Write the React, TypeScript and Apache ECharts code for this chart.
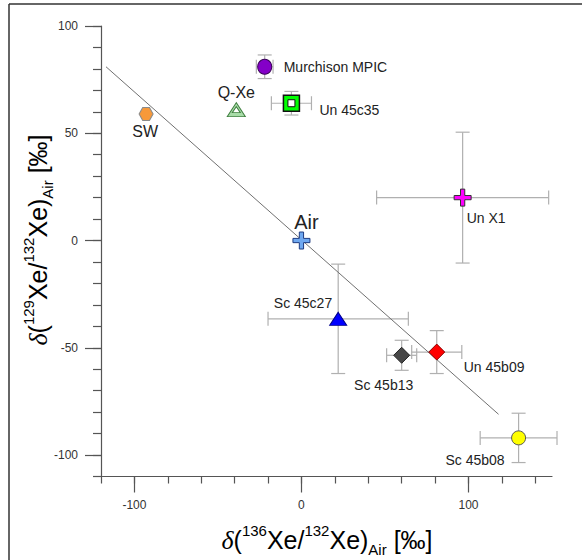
import React, { useEffect, useRef } from "react";
import * as echarts from "echarts";

// ---- data ----
const sampleNames = ["Murchison MPIC", "Un 45c35", "Q-Xe", "SW", "Air", "Un X1", "Sc 45c27", "Sc 45b13", "Un 45b09", "Sc 45b08"];
const delta136 = [-22, -6, -39, -93, 0, 96.5, 22, 60, 81, 130];
const delta129 = [81, 64, 61, 59, 0, 20, -36.5, -53.5, -52, -92];
const err136 = [5, 12, 0, 0, 0, 51.5, 42, 9, 15, 23];
const err129 = [5.5, 5.5, 0, 0, 0, 30.5, 25.5, 7, 10, 11.5];
const trendX = [-117, 118];
const trendY = [81, -81];
const xMajorTicks = [-100, 0, 100];
const xMinorTicks = [-120, -100, -80, -60, -40, -20, 0, 20, 40, 60, 80, 100, 120, 140];
const yMajorTicks = [-100, -50, 0, 50, 100];
const yMinorTicks = [-110, -100, -90, -80, -70, -60, -50, -40, -30, -20, -10, 0, 10, 20, 30, 40, 50, 60, 70, 80, 90, 100];

// ---- styles ----
const CROSS = "path://M3,0H5V3H8V5H5V8H3V5H0V3H3Z";
const HEX = "path://M2.6,0.5L7.4,0.5L10,5L7.4,9.5L2.6,9.5L0,5Z";

type Inner = { symbol: string; size: number | number[]; color: string; border: string };
type MStyle = {
  symbol: string;
  size: number | number[];
  color: string;
  border: string;
  bw: number;
  inner?: Inner;
  align: string;
  offset: number[];
  fontSize: number;
};

const markerStyles: MStyle[] = [
  { symbol: "circle", size: [14, 15], color: "#8400c8", border: "#3a0058", bw: 1, align: "left", offset: [19, 0], fontSize: 14 },
  { symbol: "rect", size: 16, color: "#00ff00", border: "#111111", bw: 1.5, inner: { symbol: "rect", size: 7, color: "#ffffff", border: "#111111" }, align: "left", offset: [28, 7], fontSize: 14 },
  { symbol: "triangle", size: [18, 14], color: "#a8dca8", border: "#3f7f3f", bw: 1, inner: { symbol: "triangle", size: [8, 6], color: "#ffffff", border: "#3f7f3f" }, align: "center", offset: [0, -17], fontSize: 16 },
  { symbol: HEX, size: [14, 13], color: "#f7993a", border: "#8a8a8a", bw: 1, align: "center", offset: [-1, 18], fontSize: 16 },
  { symbol: CROSS, size: 17, color: "#6fa8f0", border: "#1e3c82", bw: 1, align: "center", offset: [5, -19], fontSize: 20 },
  { symbol: CROSS, size: 17, color: "#ff00ff", border: "#333333", bw: 1, align: "left", offset: [4, 20], fontSize: 14 },
  { symbol: "triangle", size: [17, 13], color: "#0000ff", border: "#00008b", bw: 1, align: "right", offset: [-6, -16], fontSize: 14 },
  { symbol: "diamond", size: 16, color: "#474747", border: "#222222", bw: 1, align: "center", offset: [-18, 30], fontSize: 14 },
  { symbol: "diamond", size: 16, color: "#ff0000", border: "#8b0000", bw: 1, align: "left", offset: [27, 15], fontSize: 14 },
  { symbol: "circle", size: 14, color: "#ffff00", border: "#555555", bw: 1, align: "right", offset: [-14, 22], fontSize: 14 },
];

const AXIS_COLOR = "#555555";
const FONT = "Liberation Sans, Arial, sans-serif";

function buildOption() {
  const errData: number[][] = [];
  sampleNames.forEach((_, i) => {
    if (err136[i] > 0 || err129[i] > 0) errData.push([delta136[i], delta129[i], err136[i], err129[i]]);
  });

  const errorSeries = {
    type: "custom",
    name: "errors",
    clip: false,
    z: 1,
    silent: true,
    data: errData,
    encode: { x: 0, y: 1 },
    renderItem: (params: any, api: any) => {
      const x = api.value(0);
      const y = api.value(1);
      const ex = api.value(2);
      const ey = api.value(3);
      const l = api.coord([x - ex, y]);
      const r = api.coord([x + ex, y]);
      const t = api.coord([x, y + ey]);
      const b = api.coord([x, y - ey]);
      const cap = 7;
      const st = { stroke: "#b0b0b0", lineWidth: 1.2, fill: null };
      const mk = (x1: number, y1: number, x2: number, y2: number) => ({
        type: "line",
        shape: { x1, y1, x2, y2 },
        style: st,
      });
      return {
        type: "group",
        children: [
          mk(l[0], l[1], r[0], r[1]),
          mk(l[0], l[1] - cap, l[0], l[1] + cap),
          mk(r[0], r[1] - cap, r[0], r[1] + cap),
          mk(t[0], t[1], b[0], b[1]),
          mk(t[0] - cap, t[1], t[0] + cap, t[1]),
          mk(b[0] - cap, b[1], b[0] + cap, b[1]),
        ],
      };
    },
  };

  const trendSeries = {
    type: "line",
    name: "trend",
    z: 2,
    silent: true,
    symbol: "none",
    data: trendX.map((x, i) => [x, trendY[i]]),
    lineStyle: { color: "#707070", width: 1 },
  };

  const markerSeries: any[] = [];
  sampleNames.forEach((name, i) => {
    const s = markerStyles[i];
    markerSeries.push({
      type: "scatter",
      name,
      z: 3,
      silent: true,
      symbol: s.symbol,
      symbolSize: s.size,
      data: [[delta136[i], delta129[i]]],
      itemStyle: { color: s.color, borderColor: s.border, borderWidth: s.bw, opacity: 1 },
      label: {
        show: true,
        formatter: name,
        position: "inside",
        align: s.align,
        verticalAlign: "middle",
        offset: s.offset,
        fontSize: s.fontSize,
        fontFamily: FONT,
        color: "#222222",
      },
    });
    if (s.inner) {
      markerSeries.push({
        type: "scatter",
        name: name + " inner",
        z: 4,
        silent: true,
        symbol: s.inner.symbol,
        symbolSize: s.inner.size,
        data: [[delta136[i], delta129[i]]],
        itemStyle: { color: s.inner.color, borderColor: s.inner.border, borderWidth: 1, opacity: 1 },
        label: { show: false },
      });
    }
  });

  const titleRich = {
    d: { fontSize: 26, fontFamily: "Liberation Serif, serif", fontStyle: "italic", lineHeight: 34, verticalAlign: "middle", color: "#222" },
    m: { fontSize: 25, fontFamily: FONT, lineHeight: 28, verticalAlign: "middle", color: "#222" },
    s: { fontSize: 15, fontFamily: FONT, lineHeight: 15, verticalAlign: "top", color: "#222" },
    b: { fontSize: 15, fontFamily: FONT, lineHeight: 15, verticalAlign: "bottom", color: "#222" },
  };

  const xTitle = "{d|δ}{m|(}{s|136}{m|Xe/}{s|132}{m|Xe)}{b|Air}{m| [‰]}";
  const yTitle = "{d|δ}{m|(}{s|129}{m|Xe/}{s|132}{m|Xe)}{b|Air}{m| [‰]}";

  const baseX = {
    type: "value",
    min: -120,
    max: 150,
    position: "bottom",
    splitLine: { show: false },
  };
  const baseY = {
    type: "value",
    min: -110,
    max: 100,
    position: "left",
    splitLine: { show: false },
  };

  return {
    animation: false,
    backgroundColor: "#ffffff",
    textStyle: { fontFamily: FONT },
    grid: { left: 101, top: 26, width: 451, height: 450.5 },
    xAxis: [
      {
        ...baseX,
        axisLine: { show: true, onZero: false, lineStyle: { color: AXIS_COLOR, width: 1.2 } },
        axisTick: { show: true, customValues: xMinorTicks, length: 7, lineStyle: { color: AXIS_COLOR, width: 1.2 } },
        axisLabel: { show: true, customValues: xMajorTicks, margin: 22, fontSize: 12, color: "#333333", fontFamily: FONT },
      },
      {
        ...baseX,
        axisLine: { show: false, onZero: false },
        axisTick: { show: true, customValues: xMajorTicks, length: 16, lineStyle: { color: AXIS_COLOR, width: 1.2 } },
        axisLabel: { show: false },
      },
    ],
    yAxis: [
      {
        ...baseY,
        axisLine: { show: true, onZero: false, lineStyle: { color: AXIS_COLOR, width: 1.2 } },
        axisTick: { show: true, customValues: yMinorTicks, length: 8, lineStyle: { color: AXIS_COLOR, width: 1.2 } },
        axisLabel: { show: true, customValues: yMajorTicks, margin: 23, fontSize: 12, color: "#333333", fontFamily: FONT },
      },
      {
        ...baseY,
        axisLine: { show: false, onZero: false },
        axisTick: { show: true, customValues: yMajorTicks, length: 16, lineStyle: { color: AXIS_COLOR, width: 1.2 } },
        axisLabel: { show: false },
      },
    ],
    graphic: [
      { type: "line", shape: { x1: 9, y1: 4, x2: 9, y2: 560 }, style: { stroke: "#333333", lineWidth: 1.5 } },
      { type: "line", shape: { x1: 9, y1: 4, x2: 582, y2: 4 }, style: { stroke: "#333333", lineWidth: 1.5 } },
      {
        type: "text",
        x: 327,
        y: 540,
        style: { text: xTitle, rich: titleRich, align: "center", verticalAlign: "middle", textAlign: "center", textVerticalAlign: "middle" },
      },
      {
        type: "text",
        x: 38,
        y: 240,
        rotation: Math.PI / 2,
        style: { text: yTitle, rich: titleRich, align: "center", verticalAlign: "middle", textAlign: "center", textVerticalAlign: "middle" },
      },
    ],
    series: [errorSeries, trendSeries, ...markerSeries],
  };
}

export default function App() {
  const ref = useRef<HTMLDivElement>(null);
  useEffect(() => {
    if (!ref.current) return;
    const chart = echarts.init(ref.current, null, { renderer: "svg" });
    chart.setOption(buildOption() as any);
    return () => chart.dispose();
  }, []);
  return <div ref={ref} style={{ position: "fixed", left: 0, top: 0, width: 582, height: 560 }} />;
}
